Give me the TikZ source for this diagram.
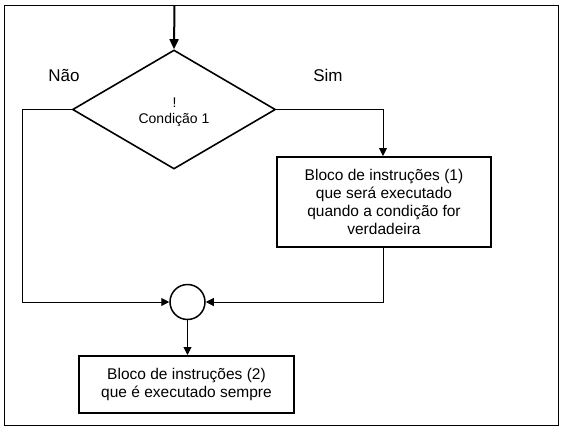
\documentclass[tikz,border=0pt]{standalone}
\usepackage{fontspec}
\setmainfont{Liberation Sans}
\usetikzlibrary{shapes.geometric,arrows.meta}
\begin{document}
\begin{tikzpicture}[x=1pt,y=-1pt,
  conn/.style={line width=1pt,-{Triangle[length=8pt,width=8pt]}},
  blockbox/.style={draw,line width=2pt,align=center,inner sep=0pt,font=\fontsize{15.5}{17.8}\selectfont},
  lbl/.style={font=\fontsize{17}{20}\selectfont,inner sep=0pt},
  condfont/.style={font=\fontsize{14}{16}\selectfont,inner sep=0pt,anchor=base}
]
\useasboundingbox (0,0) rectangle (566,432);
\draw[line width=1pt] (4,5) rectangle (558,425);
\coordinate (start) at (174.5,5);
\node[diamond,draw,line width=1.6pt,minimum width=203pt,minimum height=119pt,inner sep=0pt] (cond) at (174,109.5) {};
\node[condfont] (excl) at (174.5,107) {!};
\node[condfont] (condtext) at (174,123) {Condição 1};
\node[blockbox,minimum width=214pt,minimum height=90pt] (b1) at (384,202) {Bloco de instruções (1)\\que será executado\\quando a condição for\\verdadeira};
\node[circle,draw,line width=1.5pt,minimum size=35pt,inner sep=0pt] (join) at (187.5,302) {};
\node[blockbox,minimum width=215pt,minimum height=57pt] (b2) at (186.5,384.5) {Bloco de instruções (2)\\que é executado sempre};
\node[lbl] (nao) at (64,75) {Não};
\node[lbl] (sim) at (328,75) {Sim};
\coordinate (lc1) at (22,109.5);
\coordinate (lc2) at (22,302);
\coordinate (rc1) at (383,109.5);
\coordinate (rc2) at (383,302);
\draw[line width=2pt,-{Triangle[length=10pt,width=9pt]}] (start) -- (cond.north);
\draw[conn] (cond.west) -- (lc1) -- (lc2) -- (join.west);
\draw[conn] (cond.east) -- (rc1) -- (b1.north -| rc1);
\draw[conn] (b1.south -| rc2) -- (rc2) -- (join.east);
\draw[conn] (join.south) -- (b2.north -| join.south);
\end{tikzpicture}
\end{document}
